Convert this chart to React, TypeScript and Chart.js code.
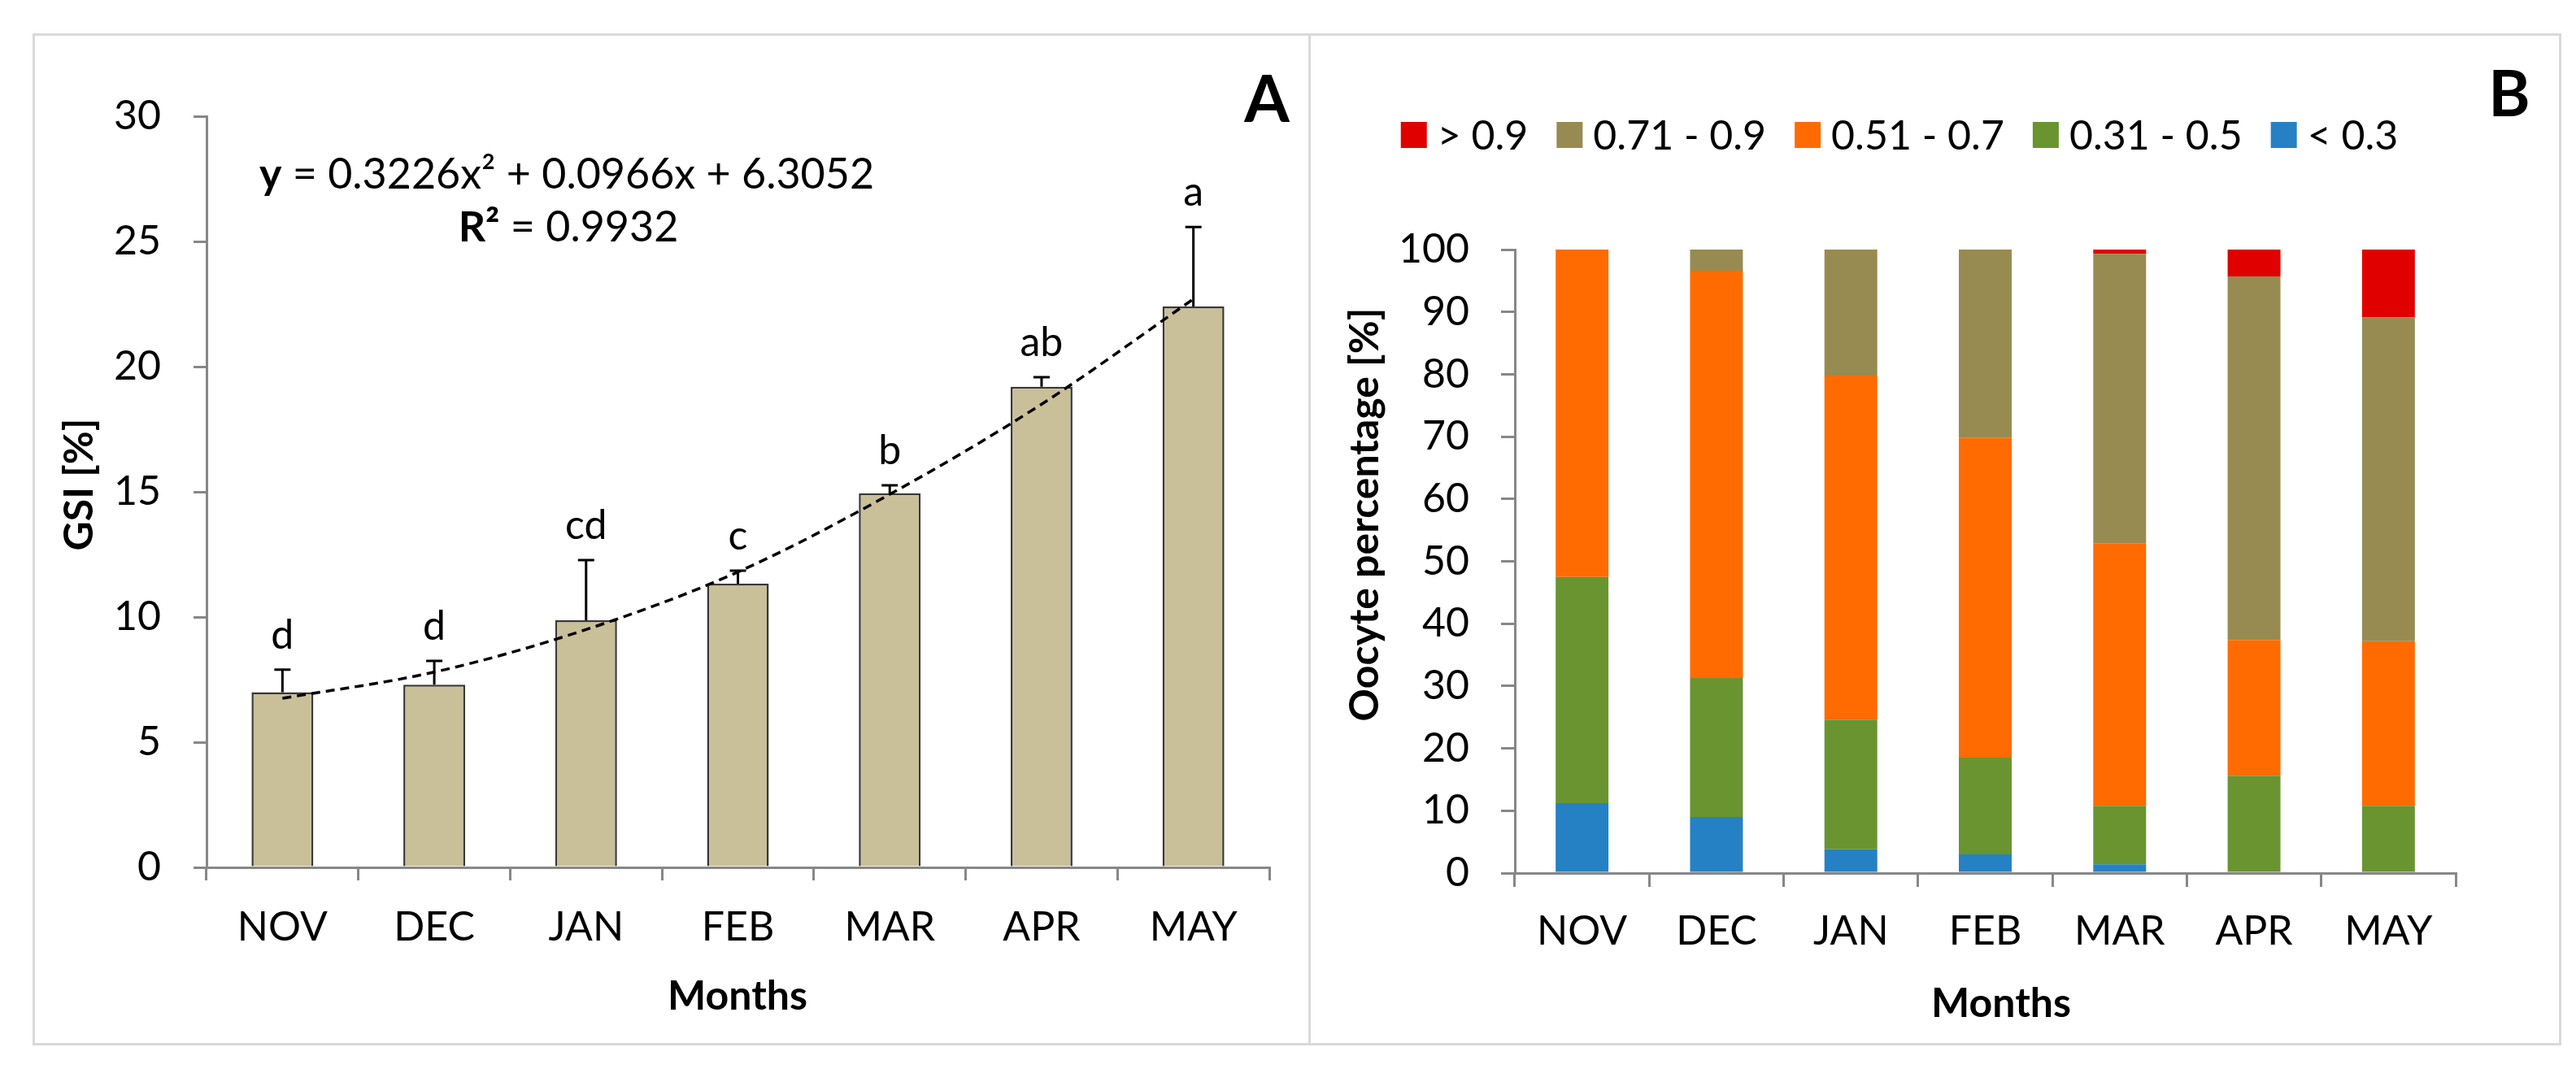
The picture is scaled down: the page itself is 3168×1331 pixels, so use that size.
import React, { useEffect, useRef } from 'react';
import { Chart, registerables } from 'chart.js';

Chart.register(...registerables);

const FONT = 'Lato, "Open Sans", sans-serif';

// ---------- Panel A data ----------
const months = ['NOV', 'DEC', 'JAN', 'FEB', 'MAR', 'APR', 'MAY'];
const gsiMean = [7.0, 7.3, 9.87, 11.33, 14.94, 19.2, 22.4];
const gsiSE = [0.9, 0.95, 2.4, 0.52, 0.32, 0.38, 3.18];
const gsiLetters = ['d', 'd', 'cd', 'c', 'b', 'ab', 'a'];
const gsiTrend = [6.75, 7.8, 9.5, 11.8, 14.9, 18.5, 22.7];
const gsiEquation = ' = 0.3226x² + 0.0966x + 6.3052';
const gsiR2 = ' = 0.9932';

// ---------- Panel B data ----------
const classLabels = ['< 0.3', '0.31 - 0.5', '0.51 - 0.7', '0.71 - 0.9', '> 0.9'];
const classColors = ['#2581C4', '#6A9430', '#FF6B00', '#978B51', '#E00000'];
const below03 = [11.2, 9.0, 3.8, 3.0, 1.4, 0, 0];
const from031to05 = [36.3, 22.3, 20.8, 15.5, 9.4, 15.6, 10.8];
const from051to07 = [52.5, 65.3, 55.2, 51.3, 42.1, 21.8, 26.4];
const from071to09 = [0, 3.4, 20.2, 30.2, 46.4, 58.3, 51.9];
const above09 = [0, 0, 0, 0, 0.7, 4.3, 10.9];

const AXIS_GREY = '#878787';

function drawRuns(ctx: any, runs: { text: string; font: string }[], cx: number, baseline: number) {
  let total = 0;
  runs.forEach((r) => {
    ctx.font = r.font;
    total += ctx.measureText(r.text).width;
  });
  let x = cx - total / 2;
  ctx.textAlign = 'left';
  ctx.textBaseline = 'alphabetic';
  runs.forEach((r) => {
    ctx.font = r.font;
    ctx.fillText(r.text, x, baseline);
    x += ctx.measureText(r.text).width;
  });
}

function drawRotated(ctx: any, text: string, font: string, cx: number, cy: number) {
  ctx.save();
  ctx.translate(cx, cy);
  ctx.rotate(-Math.PI / 2);
  ctx.font = font;
  ctx.textAlign = 'center';
  ctx.textBaseline = 'middle';
  ctx.fillText(text, 0, 0);
  ctx.restore();
}

const gsiPlugin = {
  id: 'gsiDecor',
  afterDatasetsDraw(chart: any) {
    const { ctx } = chart;
    const y = chart.scales.y;
    const meta = chart.getDatasetMeta(0);
    ctx.save();
    ctx.strokeStyle = '#000';
    ctx.fillStyle = '#000';
    ctx.lineWidth = 3;
    meta.data.forEach((bar: any, i: number) => {
      const top = y.getPixelForValue(gsiMean[i]);
      const et = y.getPixelForValue(gsiMean[i] + gsiSE[i]);
      ctx.beginPath();
      ctx.moveTo(bar.x, top);
      ctx.lineTo(bar.x, et);
      ctx.moveTo(bar.x - 10, et);
      ctx.lineTo(bar.x + 10, et);
      ctx.stroke();
      ctx.font = `50px ${FONT}`;
      ctx.textAlign = 'center';
      ctx.textBaseline = 'alphabetic';
      ctx.fillText(gsiLetters[i], bar.x, et - 26);
    });
    // equation
    drawRuns(ctx, [
      { text: 'y', font: `bold 52px ${FONT}` },
      { text: gsiEquation, font: `52px ${FONT}` },
    ], 697, 232);
    drawRuns(ctx, [
      { text: 'R²', font: `bold 52px ${FONT}` },
      { text: gsiR2, font: `52px ${FONT}` },
    ], 699, 297);
    // panel letter
    ctx.font = `bold 80px ${FONT}`;
    ctx.textAlign = 'center';
    ctx.textBaseline = 'alphabetic';
    ctx.fillText('A', 1558, 150);
    // axis titles
    drawRotated(ctx, 'GSI [%]', `bold 50px ${FONT}`, 98, 596);
    ctx.font = `bold 50px ${FONT}`;
    ctx.textAlign = 'center';
    ctx.textBaseline = 'middle';
    ctx.fillText('Months', 907, 1226);
    ctx.restore();
  },
};

const oocytePlugin = {
  id: 'oocyteDecor',
  afterDraw(chart: any) {
    const { ctx } = chart;
    ctx.save();
    ctx.fillStyle = '#000';
    // legend (reverse of stacking order)
    const order = [4, 3, 2, 1, 0];
    ctx.font = `50px ${FONT}`;
    const box = 32, gapText = 13, gapItem = 35;
    let total = 0;
    order.forEach((k, j) => {
      total += box + gapText + ctx.measureText(classLabels[k]).width;
      if (j < order.length - 1) total += gapItem;
    });
    let x = 736 - total / 2;
    const cy = 166;
    order.forEach((k) => {
      ctx.fillStyle = classColors[k];
      ctx.fillRect(x, cy - box / 2, box, box);
      x += box + gapText;
      ctx.fillStyle = '#000';
      ctx.textAlign = 'left';
      ctx.textBaseline = 'middle';
      ctx.fillText(classLabels[k], x, cy + 2);
      x += ctx.measureText(classLabels[k]).width + gapItem;
    });
    // panel letter
    ctx.font = `bold 78px ${FONT}`;
    ctx.textAlign = 'center';
    ctx.textBaseline = 'alphabetic';
    ctx.fillText('B', 1486, 143);
    // axis titles
    drawRotated(ctx, 'Oocyte percentage [%]', `bold 50px ${FONT}`, 79, 633);
    ctx.font = `bold 50px ${FONT}`;
    ctx.textAlign = 'center';
    ctx.textBaseline = 'middle';
    ctx.fillText('Months', 861, 1235);
    ctx.restore();
  },
};

function axisCommon(tickLength: number, padding: number) {
  return {
    grid: { drawOnChartArea: false, drawTicks: true, tickLength, color: AXIS_GREY, lineWidth: 3 },
    border: { color: AXIS_GREY, width: 3 },
    ticks: { font: { family: FONT, size: 50 }, color: '#000', padding },
  };
}

function PanelA() {
  const ref = useRef<HTMLCanvasElement>(null);
  useEffect(() => {
    let chart: any = null;
    let cancelled = false;
    const make = () => {
      if (cancelled || !ref.current) return;
      const xa = axisCommon(16, 28);
      const ya = axisCommon(16, 40);
      chart = new Chart(ref.current, {
        type: 'bar',
        data: {
          labels: months,
          datasets: [
            {
              type: 'bar',
              data: gsiMean,
              backgroundColor: '#C9BF99',
              borderColor: '#383838',
              borderWidth: 2.5,
              categoryPercentage: 1,
              barPercentage: 0.407,
              order: 1,
            } as any,
            {
              type: 'line',
              data: gsiTrend,
              borderColor: '#000',
              borderWidth: 3.5,
              borderDash: [11, 7],
              pointRadius: 0,
              fill: false,
              cubicInterpolationMode: 'monotone',
              order: 0,
            } as any,
          ],
        },
        options: {
          responsive: false,
          animation: false,
          devicePixelRatio: 1,
          layout: { padding: { left: 54, right: 39, top: 143, bottom: 114 } },
          plugins: { legend: { display: false }, tooltip: { enabled: false } },
          scales: {
            x: {
              ...xa,
              grid: { ...xa.grid, offset: true },
              afterFit: (s: any) => { s.height = 150; },
            },
            y: {
              ...ya,
              min: 0,
              max: 30,
              ticks: { ...ya.ticks, stepSize: 5 },
              afterFit: (s: any) => { s.width = 200; },
            },
          },
        } as any,
        plugins: [gsiPlugin],
      });
    };
    Promise.all([
      document.fonts.load(`50px Lato`),
      document.fonts.load(`bold 50px Lato`),
    ]).then(make, make);
    return () => {
      cancelled = true;
      if (chart) chart.destroy();
    };
  }, []);
  return (
    <canvas
      ref={ref}
      width={1600}
      height={1331}
      style={{ position: 'absolute', left: 0, top: 0, width: 1600, height: 1331 }}
    />
  );
}

function PanelB() {
  const ref = useRef<HTMLCanvasElement>(null);
  useEffect(() => {
    let chart: any = null;
    let cancelled = false;
    const series = [below03, from031to05, from051to07, from071to09, above09];
    const make = () => {
      if (cancelled || !ref.current) return;
      const xa = axisCommon(17, 25);
      const ya = axisCommon(17, 39);
      chart = new Chart(ref.current, {
        type: 'bar',
        data: {
          labels: months,
          datasets: series.map((d, k) => ({
            label: classLabels[k],
            data: d,
            backgroundColor: classColors[k],
            borderWidth: 0,
            categoryPercentage: 1,
            barPercentage: 0.393,
          })),
        },
        options: {
          responsive: false,
          animation: false,
          devicePixelRatio: 1,
          layout: { padding: { left: 52, right: 148, top: 307, bottom: 107 } },
          plugins: { legend: { display: false }, tooltip: { enabled: false } },
          scales: {
            x: {
              ...xa,
              stacked: true,
              grid: { ...xa.grid, offset: true },
              afterFit: (s: any) => { s.height = 150; },
            },
            y: {
              ...ya,
              stacked: true,
              min: 0,
              max: 100,
              ticks: { ...ya.ticks, stepSize: 10 },
              afterFit: (s: any) => { s.width = 211; },
            },
          },
        } as any,
        plugins: [oocytePlugin],
      });
    };
    Promise.all([
      document.fonts.load(`50px Lato`),
      document.fonts.load(`bold 50px Lato`),
    ]).then(make, make);
    return () => {
      cancelled = true;
      if (chart) chart.destroy();
    };
  }, []);
  return (
    <canvas
      ref={ref}
      width={1568}
      height={1331}
      style={{ position: 'absolute', left: 1600, top: 0, width: 1568, height: 1331 }}
    />
  );
}

export default function App() {
  const frame = { position: 'absolute' as const, top: 41, height: 1245, border: '3px solid #D9D9D9', boxSizing: 'border-box' as const };
  return (
    <div style={{ position: 'absolute', left: 0, top: 0, width: 3168, height: 1331, background: '#fff', overflow: 'hidden' }}>
      <div style={{ ...frame, left: 40, width: 1572 }} />
      <div style={{ ...frame, left: 1609, width: 1541 }} />
      <PanelA />
      <PanelB />
    </div>
  );
}
